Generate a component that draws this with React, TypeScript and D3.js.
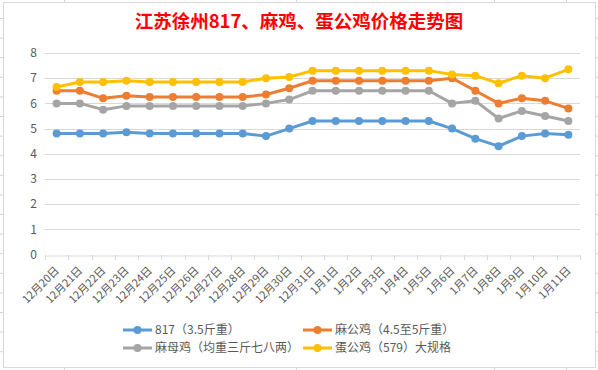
import { useRef, useEffect } from 'react';
import * as d3 from 'd3';

const categories = [
  '12月20日', '12月21日', '12月22日', '12月23日', '12月24日', '12月25日',
  '12月26日', '12月27日', '12月28日', '12月29日', '12月30日', '12月31日',
  '1月1日', '1月2日', '1月3日', '1月4日', '1月5日', '1月6日',
  '1月7日', '1月8日', '1月9日', '1月10日', '1月11日',
];

const s817 = [4.8, 4.8, 4.8, 4.85, 4.8, 4.8, 4.8, 4.8, 4.8, 4.7, 5.0, 5.3,
  5.3, 5.3, 5.3, 5.3, 5.3, 5.0, 4.6, 4.3, 4.7, 4.8, 4.75];
const maGongJi = [6.5, 6.5, 6.2, 6.3, 6.25, 6.25, 6.25, 6.25, 6.25, 6.35, 6.6, 6.9,
  6.9, 6.9, 6.9, 6.9, 6.9, 7.0, 6.5, 6.0, 6.2, 6.1, 5.8];
const maMuJi = [6.0, 6.0, 5.75, 5.9, 5.9, 5.9, 5.9, 5.9, 5.9, 6.0, 6.15, 6.5,
  6.5, 6.5, 6.5, 6.5, 6.5, 6.0, 6.1, 5.4, 5.7, 5.5, 5.3];
const danGongJi = [6.65, 6.85, 6.85, 6.9, 6.85, 6.85, 6.85, 6.85, 6.85, 7.0, 7.05, 7.3,
  7.3, 7.3, 7.3, 7.3, 7.3, 7.15, 7.1, 6.8, 7.1, 7.0, 7.35];

const seriesNames = ['817（3.5斤重）', '麻公鸡（4.5至5斤重）', '麻母鸡（均重三斤七八两）', '蛋公鸡（579）大规格'];
const seriesColors = ['#5B9BD5', '#ED7D31', '#A5A5A5', '#FFC000'];
const yTicks = [0, 1, 2, 3, 4, 5, 6, 7, 8];

const title = '江苏徐州817、麻鸡、蛋公鸡价格走势图';

export default function App() {
  const svgRef = useRef(null);

  useEffect(() => {
    document.body.style.margin = '0';
    const width = 598;
    const height = 370;
    const font = '"Noto Sans CJK SC", "Noto Sans", sans-serif';

    const svg = d3.select(svgRef.current);
    svg.selectAll('*').remove();
    svg.attr('width', width).attr('height', height).attr('viewBox', `0 0 ${width} ${height}`);

    // excel sheet grid behind the chart box
    const sheet = svg.append('g').attr('stroke', '#d4d4d4').attr('stroke-width', 1);
    [64.5, 296.5, 494.5, 566.5].forEach(x => {
      sheet.append('line').attr('x1', x).attr('x2', x).attr('y1', 0).attr('y2', height);
    });
    d3.range(18.5, height, 19.6).forEach(y => {
      sheet.append('line').attr('x1', 0).attr('x2', width).attr('y1', y).attr('y2', y);
    });

    svg.append('rect')
      .attr('x', 3.5).attr('y', 2.5)
      .attr('width', 592).attr('height', 365)
      .attr('fill', '#ffffff')
      .attr('stroke', '#d9d9d9');

    svg.append('text')
      .attr('x', 299)
      .attr('y', 28)
      .attr('text-anchor', 'middle')
      .attr('fill', '#ff0000')
      .style('font-family', font)
      .style('font-size', '18.5px')
      .style('font-weight', '700')
      .text(title);

    const x = d3.scaleBand().domain(categories).range([45, 580]).padding(0);
    const y = d3.scaleLinear().domain([0, 8]).range([254.5, 53]);

    // gridlines
    svg.append('g')
      .selectAll('line')
      .data(yTicks.filter(d => d > 0))
      .enter()
      .append('line')
      .attr('x1', 45).attr('x2', 580)
      .attr('y1', d => Math.round(y(d)) + 0.5)
      .attr('y2', d => Math.round(y(d)) + 0.5)
      .attr('stroke', '#d9d9d9');

    const xAxis = svg.append('g')
      .attr('transform', `translate(0,${Math.round(y(0)) + 0.5})`)
      .call(d3.axisBottom(x).tickSize(0).tickFormat(() => ''));
    xAxis.select('.domain').attr('stroke', '#d9d9d9');

    // tick marks between categories
    svg.append('g')
      .selectAll('line')
      .data(d3.range(categories.length + 1))
      .enter()
      .append('line')
      .attr('x1', i => Math.round(45 + i * x.step()) + 0.5)
      .attr('x2', i => Math.round(45 + i * x.step()) + 0.5)
      .attr('y1', Math.round(y(0)))
      .attr('y2', Math.round(y(0)) + 5)
      .attr('stroke', '#d9d9d9');

    svg.append('g')
      .selectAll('text')
      .data(categories)
      .enter()
      .append('text')
      .attr('transform', d => `translate(${x(d) + x.bandwidth() / 2 + 0.5},${y(0) + 14}) rotate(-45)`)
      .attr('text-anchor', 'end')
      .attr('dy', '0.35em')
      .attr('fill', '#595959')
      .style('font-family', font)
      .style('font-size', '11px')
      .text(d => d);

    svg.append('g')
      .selectAll('text')
      .data(yTicks)
      .enter()
      .append('text')
      .attr('x', 37)
      .attr('y', d => y(d))
      .attr('dy', '0.35em')
      .attr('text-anchor', 'end')
      .attr('fill', '#595959')
      .style('font-family', font)
      .style('font-size', '12px')
      .text(d => d);

    const allSeries = [s817, maGongJi, maMuJi, danGongJi];
    const line = d3.line()
      .x((d, i) => x(categories[i]) + x.bandwidth() / 2)
      .y(d => y(d));

    allSeries.forEach((values, si) => {
      const g = svg.append('g');
      g.append('path')
        .datum(values)
        .attr('d', line)
        .attr('fill', 'none')
        .attr('stroke', seriesColors[si])
        .attr('stroke-width', 3)
        .attr('stroke-linejoin', 'round');
      g.selectAll('circle')
        .data(values)
        .enter()
        .append('circle')
        .attr('cx', (d, i) => x(categories[i]) + x.bandwidth() / 2)
        .attr('cy', d => y(d))
        .attr('r', 4)
        .attr('fill', seriesColors[si]);
    });

    // legend, 2 columns
    const legendPos = [[123, 330], [303, 330], [123, 348], [303, 348]];
    const legend = svg.append('g');
    const rows = legend.selectAll('g')
      .data(seriesNames)
      .enter()
      .append('g')
      .attr('transform', (d, i) => `translate(${legendPos[i][0]},${legendPos[i][1]})`);
    rows.append('line')
      .attr('x1', 0).attr('x2', 29)
      .attr('stroke', (d, i) => seriesColors[i])
      .attr('stroke-width', 3);
    rows.append('circle')
      .attr('cx', 14.5).attr('r', 4)
      .attr('fill', (d, i) => seriesColors[i]);
    rows.append('text')
      .attr('x', 32)
      .attr('dy', '0.35em')
      .attr('fill', '#595959')
      .style('font-family', font)
      .style('font-size', '12px')
      .text(d => d);
  }, []);

  return (
    <div style={{ position: 'absolute', left: 0, top: 0 }}>
      <svg ref={svgRef}></svg>
    </div>
  );
}
